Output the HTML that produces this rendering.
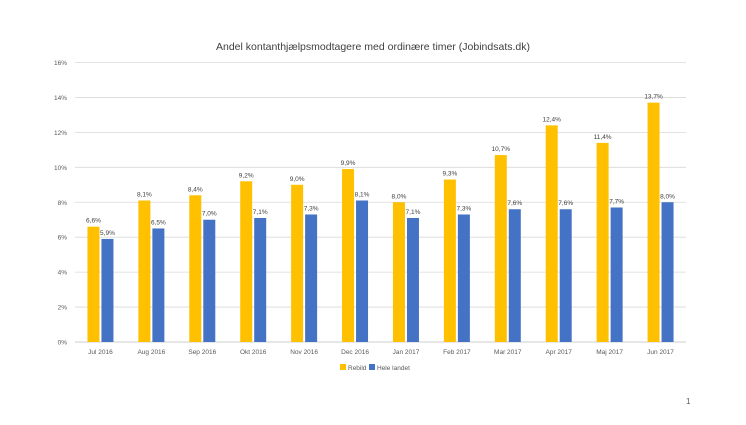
<!DOCTYPE html>
<html><head><meta charset="utf-8"><style>
body{margin:0;background:#fff;font-family:"Liberation Sans",sans-serif;}
svg text{font-family:"Liberation Sans",sans-serif;}
</style></head><body>
<svg width="746" height="420">
<text x="373" y="50" text-anchor="middle" font-size="10.5" fill="#404040">Andel kontanthjælpsmodtagere med ordinære timer (Jobindsats.dk)</text>
<g id="grid"></g><g id="bars"></g><g id="labels"></g>
<g>
<rect x="340" y="364" width="6" height="6" fill="#FFC000"/>
<text x="348" y="370" font-size="6.5" fill="#595959">Rebild</text>
<rect x="369" y="364" width="6" height="6" fill="#4472C4"/>
<text x="377" y="370" font-size="6.5" fill="#595959">Hele landet</text>
</g>
<text x="686" y="404" font-size="8" fill="#595959">1</text>
</svg>
<script>
const categories=["Jul 2016","Aug 2016","Sep 2016","Okt 2016","Nov 2016","Dec 2016","Jan 2017","Feb 2017","Mar 2017","Apr 2017","Maj 2017","Jun 2017"];
const rebild=[6.6,8.1,8.4,9.2,9.0,9.9,8.0,9.3,10.7,12.4,11.4,13.7];
const heleLandet=[5.9,6.5,7.0,7.1,7.3,8.1,7.1,7.3,7.6,7.6,7.7,8.0];
const yTicks=[0,2,4,6,8,10,12,14,16];
const NS="http://www.w3.org/2000/svg";
const L=75,R=686,T=62.5,B=342,yMax=16;
const y=v=>B-(v/yMax)*(B-T);
const bw=(R-L)/categories.length;
const xc=i=>L+bw*(i+0.5);
function mk(tag,attrs,parent,txt){const e=document.createElementNS(NS,tag);for(const k in attrs)e.setAttribute(k,attrs[k]);if(txt!==undefined)e.textContent=txt;document.getElementById(parent).appendChild(e);return e;}
const fmt=v=>v.toFixed(1).replace('.',',')+'%';
yTicks.forEach(t=>{
  const l=mk('line',{x1:L,x2:R,y1:y(t),y2:y(t),stroke:t===0?'#bfbfbf':'#d9d9d9','stroke-width':0.8},'grid');
  
  
  const tx=mk('text',{x:67,y:y(t)+2.5,'text-anchor':'end','font-size':6.5,fill:'#595959'},'labels',t+'%');
  
  
});
categories.forEach((c,i)=>{
  const cx=xc(i);
  const series=[[rebild[i],'#FFC000',cx-13,'bar-rebild'],[heleLandet[i],'#4472C4',cx+1,'bar-hele-landet']];
  series.forEach(s=>{
    const r=mk('rect',{x:s[2],y:y(s[0]),width:12,height:B-y(s[0]),fill:s[1]},'bars');
    
    
    const t=mk('text',{x:s[2]+6,y:y(s[0])-4,'text-anchor':'middle','font-size':6.5,fill:'#404040'},'labels',fmt(s[0]));
    
    
  });
  const xl=mk('text',{x:cx,y:354,'text-anchor':'middle','font-size':6.5,fill:'#595959'},'labels',c);
  
  
});
</script>
</body></html>
